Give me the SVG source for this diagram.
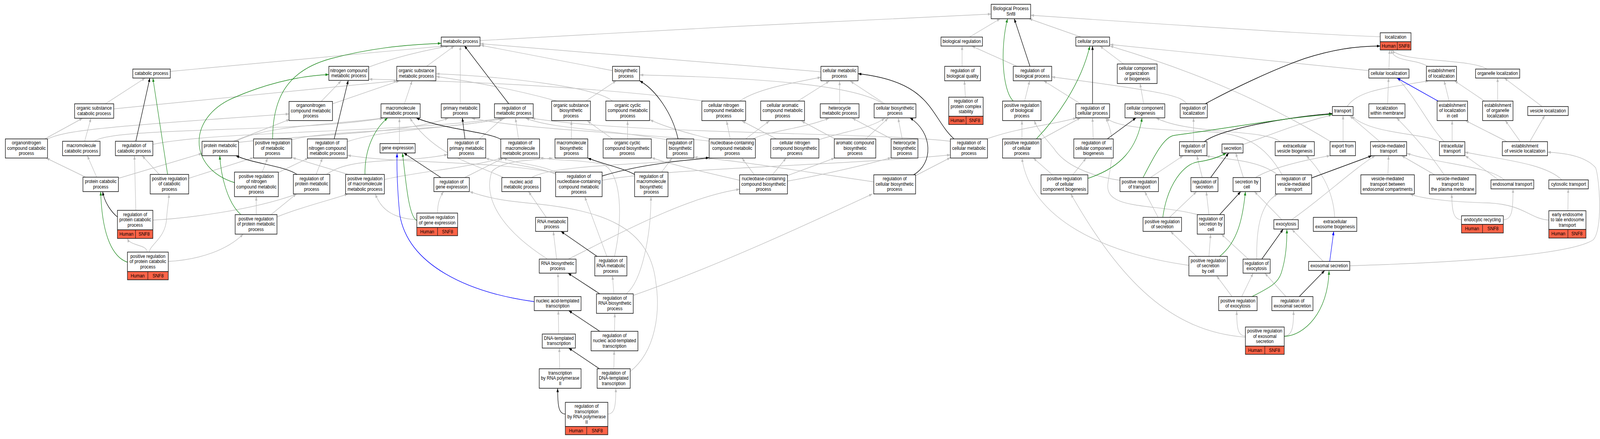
<svg xmlns="http://www.w3.org/2000/svg" width="4783" height="1125" viewBox="0 0 4783 1125" preserveAspectRatio="none" style="width:100vw;height:100vh;display:block">
<style>
.n rect{fill:#fff;stroke:#1a1a1a;stroke-width:1.6}
.n rect.bar{fill:#FF6347}
.n line{stroke:#1a1a1a;stroke-width:1.4}
text{font-family:"Liberation Sans",Arial,Helvetica,sans-serif;font-size:13px;text-anchor:middle;fill:#000}
.e path{fill:none;stroke-width:1.4}
.e .g{stroke:#BEBEBE;marker-end:url(#ag)}
.e .k{stroke:#000;marker-end:url(#ak)}
.e .v{stroke:#228B22;marker-end:url(#av)}
.e .b{stroke:#0000FF;marker-end:url(#ab)}
</style>
<defs>
<marker id="ag" viewBox="0 0 10 7" refX="10" refY="3.5" markerWidth="10" markerHeight="7" markerUnits="userSpaceOnUse" orient="auto"><path d="M0,0L10,3.5L0,7z" fill="#BEBEBE"/></marker>
<marker id="ak" viewBox="0 0 10 7" refX="10" refY="3.5" markerWidth="10" markerHeight="7" markerUnits="userSpaceOnUse" orient="auto"><path d="M0,0L10,3.5L0,7z" fill="#000"/></marker>
<marker id="av" viewBox="0 0 10 7" refX="10" refY="3.5" markerWidth="10" markerHeight="7" markerUnits="userSpaceOnUse" orient="auto"><path d="M0,0L10,3.5L0,7z" fill="#228B22"/></marker>
<marker id="ab" viewBox="0 0 10 7" refX="10" refY="3.5" markerWidth="10" markerHeight="7" markerUnits="userSpaceOnUse" orient="auto"><path d="M0,0L10,3.5L0,7z" fill="#0000FF"/></marker>
</defs>
<rect x="0" y="0" width="4783" height="1125" fill="#fff"/>
<g id="edges" class="e">
<path class="g" d="M1435,104 C1900,82 2500,52 2963,36"/>
<path class="g" d="M2898,95 L2990,48"/>
<path class="g" d="M3232,95 L3076,48"/>
<path class="g" d="M4126,94 Q3950,90 3081,39"/>
<path class="g" d="M509,183 L1326,118"/>
<path class="g" d="M1102,172 Q1200,140 1342,118"/>
<path class="g" d="M1275,170 L1358,118"/>
<path class="g" d="M1376,266 L1376,118"/>
<path class="g" d="M1831,181 L1437,116"/>
<path class="g" d="M2454,184 L1436,112"/>
<path class="g" d="M315,266 L434,200"/>
<path class="g" d="M134,356 L247,303"/>
<path class="g" d="M253,362 L272,303"/>
<path class="g" d="M340,279 L1187,207"/>
<path class="g" d="M960,260 L1020,207"/>
<path class="g" d="M994,266 L1194,207"/>
<path class="g" d="M2105,259 Q1700,214 1103,203"/>
<path class="g" d="M1209,266 L1232,207"/>
<path class="g" d="M1665,259 Q1500,220 1304,196"/>
<path class="g" d="M1751,259 L1842,207"/>
<path class="g" d="M1831,259 C1780,222 1500,196 1304,189"/>
<path class="g" d="M2125,356 Q2000,330 1943,307"/>
<path class="g" d="M140,357 C190,335 300,325 864,292"/>
<path class="g" d="M283,362 C330,325 900,340 1145,303"/>
<path class="g" d="M457,370 C650,335 1200,340 1500,303"/>
<path class="g" d="M698,362 L866,306"/>
<path class="g" d="M705,362 C800,320 1000,320 1148,302"/>
<path class="g" d="M872,358 C1000,330 1300,340 1505,303"/>
<path class="g" d="M1038,363 C1150,330 1350,330 1510,303"/>
<path class="g" d="M1194,368 L1194,303"/>
<path class="g" d="M1433,356 L1503,303"/>
<path class="g" d="M1550,356 L1541,303"/>
<path class="g" d="M1708,356 L1708,310"/>
<path class="g" d="M1876,356 L1876,310"/>
<path class="g" d="M1831,356 L1756,310"/>
<path class="g" d="M1995,358 C1800,330 1650,330 1572,303"/>
<path class="g" d="M2183,356 L2172,310"/>
<path class="g" d="M2229,356 L2300,310"/>
<path class="g" d="M2250,356 C2300,335 2400,330 2478,303"/>
<path class="g" d="M2125,362 C1900,340 1600,335 1410,303"/>
<path class="g" d="M712,365 C900,345 1200,345 1340,303"/>
<path class="g" d="M2321,356 L2218,310"/>
<path class="g" d="M2448,358 C2530,335 2600,330 2645,303"/>
<path class="g" d="M2496,356 L2396,310"/>
<path class="g" d="M2588,356 L2655,303"/>
<path class="g" d="M2665,356 L2548,303"/>
<path class="g" d="M2697,356 L2685,303"/>
<path class="g" d="M2645,266 L2542,208"/>
<path class="g" d="M2640,266 C2560,220 2300,200 1913,192"/>
<path class="g" d="M2510,266 L2510,208"/>
<path class="g" d="M2385,259 L2479,208"/>
<path class="g" d="M2211,259 C2260,230 2350,215 2454,198"/>
<path class="g" d="M2841,362 C2600,338 1900,345 1590,303"/>
<path class="g" d="M2950,356 C3050,325 3150,320 3218,302"/>
<path class="g" d="M2876,170 L2876,118"/>
<path class="g" d="M2886,249 L2883,207"/>
<path class="g" d="M3040,170 L2905,118"/>
<path class="g" d="M3063,259 L3078,207"/>
<path class="g" d="M3230,266 L3120,207"/>
<path class="g" d="M3359,164 L3288,118"/>
<path class="g" d="M3419,266 L3408,214"/>
<path class="g" d="M3548,266 C3530,245 3480,235 3144,197"/>
<path class="g" d="M3055,356 L3055,309"/>
<path class="g" d="M3110,358 L3230,302"/>
<path class="g" d="M3268,356 L3266,302"/>
<path class="g" d="M3146,448 L3089,405"/>
<path class="g" d="M3207,448 L3247,405"/>
<path class="g" d="M4027,273 C4060,230 4150,225 4271,207"/>
<path class="g" d="M3568,363 L3568,302"/>
<path class="g" d="M3717,370 C3800,345 3900,310 3982,295"/>
<path class="g" d="M3439,455 L3537,399"/>
<path class="g" d="M3348,462 C3250,450 3180,420 3150,380 C3120,350 3100,330 3092,309"/>
<path class="g" d="M3594,455 L3578,399"/>
<path class="g" d="M3717,455 L3694,392"/>
<path class="g" d="M3820,448 C3770,415 3700,410 3606,400"/>
<path class="g" d="M3833,448 C3780,370 3720,340 3600,337 C3450,333 3330,325 3308,302"/>
<path class="g" d="M3827,363 C3780,330 3550,345 3456,302"/>
<path class="g" d="M4015,363 L4015,296"/>
<path class="g" d="M4125,363 L4035,297"/>
<path class="g" d="M4305,363 C4250,340 4100,345 4040,297"/>
<path class="g" d="M4341,363 L4341,309"/>
<path class="g" d="M4317,363 C4270,320 4240,260 4178,200"/>
<path class="g" d="M4545,363 L4500,309"/>
<path class="g" d="M4573,363 L4618,296"/>
<path class="g" d="M4505,363 L4381,309"/>
<path class="g" d="M4610,273 L4497,200"/>
<path class="g" d="M4477,259 L4477,200"/>
<path class="g" d="M4438,259 L4348,207"/>
<path class="g" d="M4332,259 L4317,207"/>
<path class="g" d="M4148,266 L4151,200"/>
<path class="g" d="M4152,177 L4154,128"/>
<path class="g" d="M4268,170 C4230,150 4168,160 4158,128"/>
<path class="g" d="M4445,177 C4400,150 4185,160 4162,128"/>
<path class="g" d="M4092,181 L3318,114"/>
<path class="g" d="M4149,448 L4151,399"/>
<path class="g" d="M4497,461 C4450,425 4300,420 4206,393"/>
<path class="g" d="M4480,461 L4380,399"/>
<path class="g" d="M4289,448 L4190,399"/>
<path class="g" d="M4317,448 C4280,400 4230,350 4175,302"/>
<path class="g" d="M4669,461 C4620,420 4500,410 4379,390"/>
<path class="g" d="M4369,563 C4345,563 4340,540 4340,497"/>
<path class="g" d="M4494,563 C4520,563 4523,540 4523,484"/>
<path class="g" d="M4687,540 L4688,484"/>
<path class="g" d="M4630,564 C4570,560 4560,525 4450,520 C4350,518 4250,510 4215,497"/>
<path class="g" d="M3990,557 C3985,480 3940,430 3905,399"/>
<path class="g" d="M4035,681 C4400,672 4700,650 4762,615 C4792,590 4782,460 4770,430 C4740,400 4680,392 4626,390"/>
<path class="g" d="M3956,670 L3862,588"/>
<path class="g" d="M3832,563 L3750,491"/>
<path class="g" d="M3861,563 C3950,510 4050,430 4111,399"/>
<path class="g" d="M3614,550 L3606,491"/>
<path class="g" d="M3585,551 C3450,520 3300,540 3312,470 C3320,420 3340,360 3305,302"/>
<path class="g" d="M3462,557 L3422,491"/>
<path class="g" d="M3496,557 L3577,491"/>
<path class="g" d="M3577,657 L3499,593"/>
<path class="g" d="M3614,657 L3619,600"/>
<path class="g" d="M3554,680 C3300,650 3080,560 3055,405"/>
<path class="g" d="M3732,664 L3651,600"/>
<path class="g" d="M3757,664 C3755,580 3770,520 3820,497"/>
<path class="g" d="M3683,760 L3637,707"/>
<path class="g" d="M3712,760 L3746,700"/>
<path class="g" d="M3844,760 L3781,700"/>
<path class="g" d="M3723,861 C3700,861 3697,840 3697,797"/>
<path class="g" d="M3839,861 C3862,861 3867,840 3867,797"/>
<path class="g" d="M3723,864 C3500,850 3350,720 3201,497"/>
<path class="g" d="M1389,455 L1505,405"/>
<path class="g" d="M1308,546 C1308,520 1315,505 1326,491"/>
<path class="g" d="M1246,563 C1180,560 1140,540 1122,497"/>
<path class="g" d="M1590,455 C1650,420 2000,420 2128,405"/>
<path class="g" d="M1505,455 C1420,420 1300,400 1225,302"/>
<path class="g" d="M1633,557 L1580,491"/>
<path class="g" d="M1664,664 L1654,593"/>
<path class="g" d="M1635,663 C1520,600 1440,520 1470,440 C1500,410 1600,410 1652,405"/>
<path class="g" d="M1699,664 C1850,600 2050,505 2211,485"/>
<path class="g" d="M1814,657 L1748,504"/>
<path class="g" d="M1837,657 C1862,560 1860,440 1800,420 C1720,408 1660,412 1614,404"/>
<path class="g" d="M1835,753 L1831,707"/>
<path class="g" d="M1872,753 C1920,720 1946,600 1946,504"/>
<path class="g" d="M1893,757 C2150,680 2450,560 2608,497"/>
<path class="g" d="M1837,849 L1838,803"/>
<path class="g" d="M1669,760 L1668,700"/>
<path class="g" d="M1670,856 L1669,796"/>
<path class="g" d="M1835,945 L1836,899"/>
<path class="g" d="M1884,952 C1960,900 1975,800 1960,720 C1940,580 1800,540 1600,522 C1500,515 1450,505 1404,491"/>
<path class="g" d="M1673,945 L1672,892"/>
<path class="g" d="M1817,1061 C1838,1061 1841,1040 1841,995"/>
<path class="g" d="M1978,441 L2009,405"/>
<path class="g" d="M256,454 L138,405"/>
<path class="g" d="M289,454 L261,399"/>
<path class="g" d="M354,457 L604,393"/>
<path class="g" d="M476,447 L425,399"/>
<path class="g" d="M564,457 L758,404"/>
<path class="g" d="M406,539 L402,399"/>
<path class="g" d="M457,564 C550,560 750,540 888,497"/>
<path class="g" d="M440,646 C438,625 390,632 381,611"/>
<path class="g" d="M446,646 C450,625 495,610 498,560 C500,530 505,515 505,497"/>
<path class="g" d="M503,670 C600,665 680,640 727,600"/>
<path class="g" d="M810,550 L886,497"/>
<path class="g" d="M828,556 C900,530 1000,510 1040,497"/>
<path class="g" d="M766,550 L766,504"/>
<path class="g" d="M784,441 L800,405"/>
<path class="g" d="M830,443 L922,405"/>
<path class="g" d="M945,447 L964,405"/>
<path class="g" d="M976,447 C1050,400 1200,420 1338,396"/>
<path class="g" d="M1041,447 L874,404"/>
<path class="g" d="M1149,460 C1250,440 1400,430 1500,405"/>
<path class="g" d="M1661,443 C1450,410 1200,420 1039,398"/>
<path class="g" d="M1661,446 C1600,425 1500,420 1452,405"/>
<path class="g" d="M1663,442 C1610,420 1540,420 1505,405"/>
<path class="g" d="M1800,462 C2000,430 2500,425 2841,397"/>
<path class="g" d="M2612,466 C2400,440 2200,410 2075,403"/>
<path class="g" d="M2255,448 L2218,405"/>
<path class="g" d="M2309,448 L2350,405"/>
<path class="g" d="M2354,450 L2495,405"/>
<path class="g" d="M2354,464 C2450,450 2600,420 2664,404"/>
<path class="g" d="M2211,462 C2100,440 2000,420 1948,404"/>
<path class="g" d="M2737,450 L2841,404"/>
<path class="g" d="M3978,363 C3800,270 3600,190 3318,118"/>
<path class="g" d="M3753,455 C3800,430 3900,410 3976,399"/>
<path class="k" d="M3079,170 L3032,48"/>
<path class="k" d="M3266,266 L3266,118"/>
<path class="k" d="M3310,356 L3396,302"/>
<path class="k" d="M3603,266 C3680,230 3800,180 3900,150 C3980,128 4050,118 4126,118"/>
<path class="k" d="M3600,363 C3650,330 3850,300 3983,291"/>
<path class="k" d="M3619,455 L3673,392"/>
<path class="k" d="M3646,550 L3709,491"/>
<path class="k" d="M3921,456 L4101,399"/>
<path class="k" d="M3772,664 L3836,587"/>
<path class="k" d="M3884,760 L3960,693"/>
<path class="k" d="M2852,356 C2780,300 2790,210 2565,189"/>
<path class="k" d="M2731,448 C2790,420 2790,340 2720,302"/>
<path class="k" d="M999,356 L1041,206"/>
<path class="k" d="M406,362 L448,200"/>
<path class="k" d="M888,447 C850,425 760,420 705,399"/>
<path class="k" d="M351,556 C335,545 312,520 307,491"/>
<path class="k" d="M1521,266 L1388,117"/>
<path class="k" d="M1390,356 L1382,302"/>
<path class="k" d="M1497,357 C1460,338 1320,330 1244,302"/>
<path class="k" d="M1318,455 L1207,392"/>
<path class="k" d="M2027,356 C2010,290 1960,230 1912,207"/>
<path class="k" d="M1800,451 C1900,425 2000,415 2120,404"/>
<path class="k" d="M1897,447 C1860,430 1800,420 1757,405"/>
<path class="k" d="M1785,657 L1677,593"/>
<path class="k" d="M1793,753 L1698,700"/>
<path class="k" d="M1793,849 L1700,796"/>
<path class="k" d="M1792,945 L1700,892"/>
<path class="k" d="M1690,1061 C1670,1061 1667,1040 1667,995"/>
<path class="v" d="M815,356 C815,250 860,180 990,150 C1100,125 1200,115 1319,111"/>
<path class="v" d="M701,468 C560,430 560,300 700,250 C780,220 880,195 983,191"/>
<path class="v" d="M501,447 L457,200"/>
<path class="v" d="M720,550 C680,520 660,450 657,399"/>
<path class="v" d="M381,672 C340,660 305,610 301,491"/>
<path class="v" d="M1091,447 C1090,380 1120,330 1159,302"/>
<path class="v" d="M1246,565 C1220,555 1212,450 1203,392"/>
<path class="v" d="M3029,259 C2995,230 2990,120 3012,48"/>
<path class="v" d="M3098,356 C3150,310 3230,220 3258,118"/>
<path class="v" d="M3252,457 C3350,430 3400,380 3414,302"/>
<path class="v" d="M3417,455 C3450,400 3480,350 3510,347 C3700,325 3850,300 3982,293"/>
<path class="v" d="M3476,557 C3490,470 3540,420 3580,415 C3620,410 3650,400 3666,392"/>
<path class="v" d="M3646,657 C3700,620 3715,560 3723,491"/>
<path class="v" d="M3743,760 C3800,735 3820,725 3830,700 C3845,660 3847,620 3847,588"/>
<path class="v" d="M3839,862 C3900,860 3970,800 3973,694"/>
<path class="b" d="M1597,773 C1400,750 1220,680 1195,550 C1187,480 1186,430 1187,393"/>
<path class="b" d="M4299,259 L4176,200"/>
<path class="b" d="M3975,670 L3987,593"/>
</g>
<g id="BP" class="n"><rect x="2963" y="11" width="118" height="37"/><text><tspan x="3022" y="26">Biological Process</tspan><tspan x="3022" y="40">Snf8</tspan></text></g>
<g id="MP" class="n"><rect x="1319" y="95" width="116" height="23"/><text x="1377" y="110">metabolic process</text></g>
<g id="BR" class="n"><rect x="2813" y="95" width="124" height="23"/><text x="2875" y="110">biological regulation</text></g>
<g id="CP" class="n"><rect x="3216" y="95" width="101" height="23"/><text x="3266.5" y="110">cellular process</text></g>
<g id="LOC" class="n"><rect x="4126" y="84" width="92" height="23"/><text x="4172" y="99">localization</text><rect class="bar" x="4126" y="107" width="92" height="21"/><line x1="4177" y1="107" x2="4177" y2="128"/><text x="4151.5" y="122">Human</text><text x="4197.5" y="122">SNF8</text></g>
<g id="CAT" class="n"><rect x="397" y="177" width="112" height="23"/><text x="453" y="192">catabolic process</text></g>
<g id="NCM" class="n"><rect x="983" y="170" width="119" height="36"/><text><tspan x="1042.5" y="184.75">nitrogen compound</tspan><tspan x="1042.5" y="198.25">metabolic process</tspan></text></g>
<g id="OSM" class="n"><rect x="1186" y="170" width="117" height="37"/><text><tspan x="1244.5" y="185.25">organic substance</tspan><tspan x="1244.5" y="198.75">metabolic process</tspan></text></g>
<g id="BIO" class="n"><rect x="1831" y="170" width="81" height="37"/><text><tspan x="1871.5" y="185.25">biosynthetic</tspan><tspan x="1871.5" y="198.75">process</tspan></text></g>
<g id="CMP" class="n"><rect x="2454" y="170" width="111" height="37"/><text><tspan x="2509.5" y="185.25">cellular metabolic</tspan><tspan x="2509.5" y="198.75">process</tspan></text></g>
<g id="RBQ" class="n"><rect x="2824" y="170" width="107" height="37"/><text><tspan x="2877.5" y="185.25">regulation of</tspan><tspan x="2877.5" y="198.75">biological quality</tspan></text></g>
<g id="RBP" class="n"><rect x="3029" y="170" width="115" height="37"/><text><tspan x="3086.5" y="185.25">regulation of</tspan><tspan x="3086.5" y="198.75">biological process</tspan></text></g>
<g id="CCOB" class="n"><rect x="3340" y="164" width="119" height="50"/><text><tspan x="3399.5" y="179">cellular component</tspan><tspan x="3399.5" y="192.5">organization</tspan><tspan x="3399.5" y="206">or biogenesis</tspan></text></g>
<g id="CLOC" class="n"><rect x="4092" y="177" width="120" height="23"/><text x="4152" y="192">cellular localization</text></g>
<g id="EOL" class="n"><rect x="4264" y="170" width="90" height="37"/><text><tspan x="4309" y="185.25">establishment</tspan><tspan x="4309" y="198.75">of localization</tspan></text></g>
<g id="OL" class="n"><rect x="4411" y="177" width="132" height="23"/><text x="4477" y="192">organelle localization</text></g>
<g id="OSC" class="n"><rect x="223" y="266" width="117" height="37"/><text><tspan x="281.5" y="281.25">organic substance</tspan><tspan x="281.5" y="294.75">catabolic process</tspan></text></g>
<g id="ONM" class="n"><rect x="864" y="260" width="130" height="49"/><text><tspan x="929" y="274.5">organonitrogen</tspan><tspan x="929" y="288">compound metabolic</tspan><tspan x="929" y="301.5">process</tspan></text></g>
<g id="MMP" class="n"><rect x="1139" y="266" width="117" height="36"/><text><tspan x="1197.5" y="280.75">macromolecule</tspan><tspan x="1197.5" y="294.25">metabolic process</tspan></text></g>
<g id="PMP" class="n"><rect x="1319" y="266" width="115" height="36"/><text><tspan x="1376.5" y="280.75">primary metabolic</tspan><tspan x="1376.5" y="294.25">process</tspan></text></g>
<g id="RMP" class="n"><rect x="1478" y="266" width="116" height="36"/><text><tspan x="1536" y="280.75">regulation of</tspan><tspan x="1536" y="294.25">metabolic process</tspan></text></g>
<g id="OSB" class="n"><rect x="1649" y="259" width="116" height="50"/><text><tspan x="1707" y="274">organic substance</tspan><tspan x="1707" y="287.5">biosynthetic</tspan><tspan x="1707" y="301">process</tspan></text></g>
<g id="OCCM" class="n"><rect x="1811" y="259" width="131" height="50"/><text><tspan x="1876.5" y="274">organic cyclic</tspan><tspan x="1876.5" y="287.5">compound metabolic</tspan><tspan x="1876.5" y="301">process</tspan></text></g>
<g id="CNCM" class="n"><rect x="2098" y="259" width="131" height="50"/><text><tspan x="2163.5" y="274">cellular nitrogen</tspan><tspan x="2163.5" y="287.5">compound metabolic</tspan><tspan x="2163.5" y="301">process</tspan></text></g>
<g id="CACM" class="n"><rect x="2274" y="259" width="131" height="50"/><text><tspan x="2339.5" y="274">cellular aromatic</tspan><tspan x="2339.5" y="287.5">compound metabolic</tspan><tspan x="2339.5" y="301">process</tspan></text></g>
<g id="HMP" class="n"><rect x="2452" y="266" width="116" height="36"/><text><tspan x="2510" y="280.75">heterocycle</tspan><tspan x="2510" y="294.25">metabolic process</tspan></text></g>
<g id="CBP" class="n"><rect x="2613" y="266" width="125" height="36"/><text><tspan x="2675.5" y="280.75">cellular biosynthetic</tspan><tspan x="2675.5" y="294.25">process</tspan></text></g>
<g id="RPCS" class="n"><rect x="2836" y="249" width="103" height="49"/><text><tspan x="2887.5" y="263.5">regulation of</tspan><tspan x="2887.5" y="277">protein complex</tspan><tspan x="2887.5" y="290.5">stability</tspan></text><rect class="bar" x="2836" y="298" width="103" height="21"/><line x1="2888" y1="298" x2="2888" y2="319"/><text x="2862" y="313">Human</text><text x="2913.5" y="313">SNF8</text></g>
<g id="PRBP" class="n"><rect x="2997" y="259" width="115" height="50"/><text><tspan x="3054.5" y="274">positive regulation</tspan><tspan x="3054.5" y="287.5">of biological</tspan><tspan x="3054.5" y="301">process</tspan></text></g>
<g id="RCP" class="n"><rect x="3216" y="266" width="101" height="36"/><text><tspan x="3266.5" y="280.75">regulation of</tspan><tspan x="3266.5" y="294.25">cellular process</tspan></text></g>
<g id="CCB" class="n"><rect x="3363" y="266" width="119" height="36"/><text><tspan x="3422.5" y="280.75">cellular component</tspan><tspan x="3422.5" y="294.25">biogenesis</tspan></text></g>
<g id="RLOC" class="n"><rect x="3528" y="266" width="81" height="36"/><text><tspan x="3568.5" y="280.75">regulation of</tspan><tspan x="3568.5" y="294.25">localization</tspan></text></g>
<g id="TR" class="n"><rect x="3983" y="273" width="62" height="23"/><text x="4014" y="288">transport</text></g>
<g id="LWM" class="n"><rect x="4092" y="266" width="108" height="36"/><text><tspan x="4146" y="280.75">localization</tspan><tspan x="4146" y="294.25">within membrane</tspan></text></g>
<g id="EOLC" class="n"><rect x="4296" y="259" width="91" height="50"/><text><tspan x="4341.5" y="274">establishment</tspan><tspan x="4341.5" y="287.5">of localization</tspan><tspan x="4341.5" y="301">in cell</tspan></text></g>
<g id="EOOL" class="n"><rect x="4432" y="259" width="91" height="50"/><text><tspan x="4477.5" y="274">establishment</tspan><tspan x="4477.5" y="287.5">of organelle</tspan><tspan x="4477.5" y="301">localization</tspan></text></g>
<g id="VL" class="n"><rect x="4567" y="273" width="121" height="23"/><text x="4627.5" y="288">vesicle localization</text></g>
<g id="ONCC" class="n"><rect x="16" y="356" width="126" height="49"/><text><tspan x="79" y="370.5">organonitrogen</tspan><tspan x="79" y="384">compound catabolic</tspan><tspan x="79" y="397.5">process</tspan></text></g>
<g id="MCP" class="n"><rect x="187" y="362" width="112" height="37"/><text><tspan x="243" y="377.25">macromolecule</tspan><tspan x="243" y="390.75">catabolic process</tspan></text></g>
<g id="RCAT" class="n"><rect x="345" y="362" width="112" height="37"/><text><tspan x="401" y="377.25">regulation of</tspan><tspan x="401" y="390.75">catabolic process</tspan></text></g>
<g id="PRMP" class="n"><rect x="604" y="362" width="109" height="37"/><text><tspan x="658.5" y="377.25">protein metabolic</tspan><tspan x="658.5" y="390.75">process</tspan></text></g>
<g id="PRMETP" class="n"><rect x="758" y="356" width="114" height="49"/><text><tspan x="815" y="370.5">positive regulation</tspan><tspan x="815" y="384">of metabolic</tspan><tspan x="815" y="397.5">process</tspan></text></g>
<g id="RNCM" class="n"><rect x="919" y="356" width="119" height="49"/><text><tspan x="978.5" y="370.5">regulation of</tspan><tspan x="978.5" y="384">nitrogen compound</tspan><tspan x="978.5" y="397.5">metabolic process</tspan></text></g>
<g id="GE" class="n"><rect x="1136" y="368" width="105" height="24"/><text x="1188.5" y="383.5">gene expression</text></g>
<g id="RPRIM" class="n"><rect x="1338" y="356" width="114" height="49"/><text><tspan x="1395" y="370.5">regulation of</tspan><tspan x="1395" y="384">primary metabolic</tspan><tspan x="1395" y="397.5">process</tspan></text></g>
<g id="RMMP" class="n"><rect x="1497" y="356" width="116" height="49"/><text><tspan x="1555" y="370.5">regulation of</tspan><tspan x="1555" y="384">macromolecule</tspan><tspan x="1555" y="397.5">metabolic process</tspan></text></g>
<g id="MBP" class="n"><rect x="1659" y="356" width="98" height="49"/><text><tspan x="1708" y="370.5">macromolecule</tspan><tspan x="1708" y="384">biosynthetic</tspan><tspan x="1708" y="397.5">process</tspan></text></g>
<g id="OCCB" class="n"><rect x="1803" y="356" width="144" height="49"/><text><tspan x="1875" y="370.5">organic cyclic</tspan><tspan x="1875" y="384">compound biosynthetic</tspan><tspan x="1875" y="397.5">process</tspan></text></g>
<g id="RBIO" class="n"><rect x="1993" y="356" width="81" height="49"/><text><tspan x="2033.5" y="370.5">regulation of</tspan><tspan x="2033.5" y="384">biosynthetic</tspan><tspan x="2033.5" y="397.5">process</tspan></text></g>
<g id="NCCM" class="n"><rect x="2120" y="356" width="138" height="49"/><text><tspan x="2189" y="370.5">nucleobase-containing</tspan><tspan x="2189" y="384">compound metabolic</tspan><tspan x="2189" y="397.5">process</tspan></text></g>
<g id="CNCB" class="n"><rect x="2304" y="356" width="144" height="49"/><text><tspan x="2376" y="370.5">cellular nitrogen</tspan><tspan x="2376" y="384">compound biosynthetic</tspan><tspan x="2376" y="397.5">process</tspan></text></g>
<g id="ACB" class="n"><rect x="2494" y="356" width="124" height="49"/><text><tspan x="2556" y="370.5">aromatic compound</tspan><tspan x="2556" y="384">biosynthetic</tspan><tspan x="2556" y="397.5">process</tspan></text></g>
<g id="HBP" class="n"><rect x="2664" y="356" width="80" height="49"/><text><tspan x="2704" y="370.5">heterocycle</tspan><tspan x="2704" y="384">biosynthetic</tspan><tspan x="2704" y="397.5">process</tspan></text></g>
<g id="RCMP" class="n"><rect x="2841" y="356" width="111" height="49"/><text><tspan x="2896.5" y="370.5">regulation of</tspan><tspan x="2896.5" y="384">cellular metabolic</tspan><tspan x="2896.5" y="397.5">process</tspan></text></g>
<g id="PRCP" class="n"><rect x="2997" y="356" width="115" height="49"/><text><tspan x="3054.5" y="370.5">positive regulation</tspan><tspan x="3054.5" y="384">of cellular</tspan><tspan x="3054.5" y="397.5">process</tspan></text></g>
<g id="RCCB" class="n"><rect x="3210" y="356" width="118" height="49"/><text><tspan x="3269" y="370.5">regulation of</tspan><tspan x="3269" y="384">cellular component</tspan><tspan x="3269" y="397.5">biogenesis</tspan></text></g>
<g id="RTR" class="n"><rect x="3526" y="363" width="82" height="36"/><text><tspan x="3567" y="377.75">regulation of</tspan><tspan x="3567" y="391.25">transport</tspan></text></g>
<g id="SEC" class="n"><rect x="3653" y="369" width="63" height="23"/><text x="3684.5" y="384">secretion</text></g>
<g id="EVB" class="n"><rect x="3812" y="363" width="117" height="36"/><text><tspan x="3870.5" y="377.75">extracellular</tspan><tspan x="3870.5" y="391.25">vesicle biogenesis</tspan></text></g>
<g id="EFC" class="n"><rect x="3976" y="363" width="76" height="36"/><text><tspan x="4014" y="377.75">export from</tspan><tspan x="4014" y="391.25">cell</tspan></text></g>
<g id="VMT" class="n"><rect x="4097" y="363" width="108" height="36"/><text><tspan x="4151" y="377.75">vesicle-mediated</tspan><tspan x="4151" y="391.25">transport</tspan></text></g>
<g id="IT" class="n"><rect x="4303" y="363" width="76" height="36"/><text><tspan x="4341" y="377.75">intracellular</tspan><tspan x="4341" y="391.25">transport</tspan></text></g>
<g id="EVL" class="n"><rect x="4491" y="363" width="135" height="36"/><text><tspan x="4558.5" y="377.75">establishment</tspan><tspan x="4558.5" y="391.25">of vesicle localization</tspan></text></g>
<g id="PCP" class="n"><rect x="248" y="454" width="106" height="37"/><text><tspan x="301" y="469.25">protein catabolic</tspan><tspan x="301" y="482.75">process</tspan></text></g>
<g id="PRCAT" class="n"><rect x="449" y="447" width="115" height="50"/><text><tspan x="506.5" y="462">positive regulation</tspan><tspan x="506.5" y="475.5">of catabolic</tspan><tspan x="506.5" y="489">process</tspan></text></g>
<g id="PRNCM" class="n"><rect x="701" y="441" width="131" height="63"/><text><tspan x="766.5" y="455.75">positive regulation</tspan><tspan x="766.5" y="469.25">of nitrogen</tspan><tspan x="766.5" y="482.75">compound metabolic</tspan><tspan x="766.5" y="496.25">process</tspan></text></g>
<g id="RPMP" class="n"><rect x="877" y="447" width="109" height="50"/><text><tspan x="931.5" y="462">regulation of</tspan><tspan x="931.5" y="475.5">protein metabolic</tspan><tspan x="931.5" y="489">process</tspan></text></g>
<g id="PRMMP" class="n"><rect x="1033" y="447" width="116" height="50"/><text><tspan x="1091" y="462">positive regulation</tspan><tspan x="1091" y="475.5">of macromolecule</tspan><tspan x="1091" y="489">metabolic process</tspan></text></g>
<g id="RGE" class="n"><rect x="1297" y="455" width="106" height="36"/><text><tspan x="1350" y="469.75">regulation of</tspan><tspan x="1350" y="483.25">gene expression</tspan></text></g>
<g id="NAM" class="n"><rect x="1500" y="455" width="116" height="36"/><text><tspan x="1558" y="469.75">nucleic acid</tspan><tspan x="1558" y="483.25">metabolic process</tspan></text></g>
<g id="RNCCM" class="n"><rect x="1661" y="441" width="139" height="63"/><text><tspan x="1730.5" y="455.75">regulation of</tspan><tspan x="1730.5" y="469.25">nucleobase-containing</tspan><tspan x="1730.5" y="482.75">compound metabolic</tspan><tspan x="1730.5" y="496.25">process</tspan></text></g>
<g id="RMBP" class="n"><rect x="1897" y="441" width="100" height="63"/><text><tspan x="1947" y="455.75">regulation of</tspan><tspan x="1947" y="469.25">macromolecule</tspan><tspan x="1947" y="482.75">biosynthetic</tspan><tspan x="1947" y="496.25">process</tspan></text></g>
<g id="NCCB" class="n"><rect x="2211" y="448" width="143" height="49"/><text><tspan x="2282.5" y="462.5">nucleobase-containing</tspan><tspan x="2282.5" y="476">compound biosynthetic</tspan><tspan x="2282.5" y="489.5">process</tspan></text></g>
<g id="RCBP" class="n"><rect x="2612" y="448" width="125" height="49"/><text><tspan x="2674.5" y="462.5">regulation of</tspan><tspan x="2674.5" y="476">cellular biosynthetic</tspan><tspan x="2674.5" y="489.5">process</tspan></text></g>
<g id="PRCCB" class="n"><rect x="3112" y="448" width="140" height="49"/><text><tspan x="3182" y="462.5">positive regulation</tspan><tspan x="3182" y="476">of cellular</tspan><tspan x="3182" y="489.5">component biogenesis</tspan></text></g>
<g id="PRTR" class="n"><rect x="3348" y="455" width="115" height="36"/><text><tspan x="3405.5" y="469.75">positive regulation</tspan><tspan x="3405.5" y="483.25">of transport</tspan></text></g>
<g id="RSEC" class="n"><rect x="3560" y="455" width="81" height="36"/><text><tspan x="3600.5" y="469.75">regulation of</tspan><tspan x="3600.5" y="483.25">secretion</tspan></text></g>
<g id="SBC" class="n"><rect x="3686" y="455" width="82" height="36"/><text><tspan x="3727" y="469.75">secretion by</tspan><tspan x="3727" y="483.25">cell</tspan></text></g>
<g id="RVMT" class="n"><rect x="3813" y="448" width="108" height="49"/><text><tspan x="3867" y="462.5">regulation of</tspan><tspan x="3867" y="476">vesicle-mediated</tspan><tspan x="3867" y="489.5">transport</tspan></text></g>
<g id="VMTE" class="n"><rect x="4068" y="448" width="160" height="49"/><text><tspan x="4148" y="462.5">vesicle-mediated</tspan><tspan x="4148" y="476">transport between</tspan><tspan x="4148" y="489.5">endosomal compartments</tspan></text></g>
<g id="VMTP" class="n"><rect x="4273" y="448" width="139" height="49"/><text><tspan x="4342.5" y="462.5">vesicle-mediated</tspan><tspan x="4342.5" y="476">transport to</tspan><tspan x="4342.5" y="489.5">the plasma membrane</tspan></text></g>
<g id="ET" class="n"><rect x="4457" y="461" width="128" height="23"/><text x="4521" y="476">endosomal transport</text></g>
<g id="CYT" class="n"><rect x="4630" y="461" width="118" height="23"/><text x="4689" y="476">cytosolic transport</text></g>
<g id="RPCAT" class="n"><rect x="351" y="539" width="106" height="50"/><text><tspan x="404" y="554">regulation of</tspan><tspan x="404" y="567.5">protein catabolic</tspan><tspan x="404" y="581">process</tspan></text><rect class="bar" x="351" y="589" width="106" height="22"/><line x1="405" y1="589" x2="405" y2="611"/><text x="378" y="604.5">Human</text><text x="431" y="604.5">SNF8</text></g>
<g id="PRPMP" class="n"><rect x="703" y="550" width="125" height="50"/><text><tspan x="765.5" y="565">positive regulation</tspan><tspan x="765.5" y="578.5">of protein metabolic</tspan><tspan x="765.5" y="592">process</tspan></text></g>
<g id="PRGE" class="n"><rect x="1246" y="546" width="122" height="37"/><text><tspan x="1307" y="561.25">positive regulation</tspan><tspan x="1307" y="574.75">of gene expression</tspan></text><rect class="bar" x="1246" y="583" width="122" height="21"/><line x1="1308" y1="583" x2="1308" y2="604"/><text x="1277" y="598">Human</text><text x="1338" y="598">SNF8</text></g>
<g id="RNAM" class="n"><rect x="1601" y="557" width="96" height="36"/><text><tspan x="1649" y="571.75">RNA metabolic</tspan><tspan x="1649" y="585.25">process</tspan></text></g>
<g id="PRSEC" class="n"><rect x="3417" y="557" width="115" height="36"/><text><tspan x="3474.5" y="571.75">positive regulation</tspan><tspan x="3474.5" y="585.25">of secretion</tspan></text></g>
<g id="RSBC" class="n"><rect x="3579" y="550" width="81" height="50"/><text><tspan x="3619.5" y="565">regulation of</tspan><tspan x="3619.5" y="578.5">secretion by</tspan><tspan x="3619.5" y="592">cell</tspan></text></g>
<g id="EXO" class="n"><rect x="3808" y="563" width="73" height="24"/><text x="3844.5" y="578.5">exocytosis</text></g>
<g id="EEB" class="n"><rect x="3926" y="557" width="130" height="36"/><text><tspan x="3991" y="571.75">extracellular</tspan><tspan x="3991" y="585.25">exosome biogenesis</tspan></text></g>
<g id="ER" class="n"><rect x="4369" y="553" width="125" height="22"/><text x="4431.5" y="567.5">endocytic recycling</text><rect class="bar" x="4369" y="575" width="125" height="22"/><line x1="4432" y1="575" x2="4432" y2="597"/><text x="4400.5" y="590.5">Human</text><text x="4463" y="590.5">SNF8</text></g>
<g id="EELE" class="n"><rect x="4630" y="540" width="111" height="48"/><text><tspan x="4685.5" y="554">early endosome</tspan><tspan x="4685.5" y="567.5">to late endosome</tspan><tspan x="4685.5" y="581">transport</tspan></text><rect class="bar" x="4630" y="588" width="111" height="22"/><line x1="4687" y1="588" x2="4687" y2="610"/><text x="4658.5" y="603.5">Human</text><text x="4714" y="603.5">SNF8</text></g>
<g id="PRPCAT" class="n"><rect x="381" y="646" width="122" height="50"/><text><tspan x="442" y="661">positive regulation</tspan><tspan x="442" y="674.5">of protein catabolic</tspan><tspan x="442" y="688">process</tspan></text><rect class="bar" x="381" y="696" width="122" height="21"/><line x1="442" y1="696" x2="442" y2="717"/><text x="411.5" y="711">Human</text><text x="472.5" y="711">SNF8</text></g>
<g id="RNAB" class="n"><rect x="1612" y="664" width="110" height="36"/><text><tspan x="1667" y="678.75">RNA biosynthetic</tspan><tspan x="1667" y="692.25">process</tspan></text></g>
<g id="RRNAM" class="n"><rect x="1778" y="657" width="96" height="50"/><text><tspan x="1826" y="672">regulation of</tspan><tspan x="1826" y="685.5">RNA metabolic</tspan><tspan x="1826" y="699">process</tspan></text></g>
<g id="PRSBC" class="n"><rect x="3554" y="657" width="115" height="50"/><text><tspan x="3611.5" y="672">positive regulation</tspan><tspan x="3611.5" y="685.5">of secretion</tspan><tspan x="3611.5" y="699">by cell</tspan></text></g>
<g id="REXO" class="n"><rect x="3716" y="664" width="81" height="36"/><text><tspan x="3756.5" y="678.75">regulation of</tspan><tspan x="3756.5" y="692.25">exocytosis</tspan></text></g>
<g id="EXS" class="n"><rect x="3912" y="670" width="123" height="23"/><text x="3973.5" y="685">exosomal secretion</text></g>
<g id="NATT" class="n"><rect x="1597" y="760" width="140" height="36"/><text><tspan x="1667" y="774.75">nucleic acid-templated</tspan><tspan x="1667" y="788.25">transcription</tspan></text></g>
<g id="RRNAB" class="n"><rect x="1783" y="753" width="110" height="50"/><text><tspan x="1838" y="768">regulation of</tspan><tspan x="1838" y="781.5">RNA biosynthetic</tspan><tspan x="1838" y="795">process</tspan></text></g>
<g id="PREXO" class="n"><rect x="3643" y="760" width="115" height="36"/><text><tspan x="3700.5" y="774.75">positive regulation</tspan><tspan x="3700.5" y="788.25">of exocytosis</tspan></text></g>
<g id="REXS" class="n"><rect x="3802" y="760" width="123" height="36"/><text><tspan x="3863.5" y="774.75">regulation of</tspan><tspan x="3863.5" y="788.25">exosomal secretion</tspan></text></g>
<g id="DNAT" class="n"><rect x="1621" y="856" width="99" height="36"/><text><tspan x="1670.5" y="870.75">DNA-templated</tspan><tspan x="1670.5" y="884.25">transcription</tspan></text></g>
<g id="RNATT" class="n"><rect x="1767" y="849" width="140" height="50"/><text><tspan x="1837" y="864">regulation of</tspan><tspan x="1837" y="877.5">nucleic acid-templated</tspan><tspan x="1837" y="891">transcription</tspan></text></g>
<g id="PREXS" class="n"><rect x="3723" y="838" width="116" height="49"/><text><tspan x="3781" y="852.5">positive regulation</tspan><tspan x="3781" y="866">of exosomal</tspan><tspan x="3781" y="879.5">secretion</tspan></text><rect class="bar" x="3723" y="887" width="116" height="21"/><line x1="3781" y1="887" x2="3781" y2="908"/><text x="3752" y="902">Human</text><text x="3810" y="902">SNF8</text></g>
<g id="TRNAP" class="n"><rect x="1612" y="945" width="125" height="50"/><text><tspan x="1674.5" y="960">transcription</tspan><tspan x="1674.5" y="973.5">by RNA polymerase</tspan><tspan x="1674.5" y="987">II</tspan></text></g>
<g id="RDNAT" class="n"><rect x="1785" y="945" width="99" height="50"/><text><tspan x="1834.5" y="960">regulation of</tspan><tspan x="1834.5" y="973.5">DNA-templated</tspan><tspan x="1834.5" y="987">transcription</tspan></text></g>
<g id="RTRNAP" class="n"><rect x="1690" y="1031" width="127" height="62"/><text><tspan x="1753.5" y="1045.25">regulation of</tspan><tspan x="1753.5" y="1058.75">transcription</tspan><tspan x="1753.5" y="1072.25">by RNA polymerase</tspan><tspan x="1753.5" y="1085.75">II</tspan></text><rect class="bar" x="1690" y="1093" width="127" height="21"/><line x1="1754" y1="1093" x2="1754" y2="1114"/><text x="1722" y="1108">Human</text><text x="1785.5" y="1108">SNF8</text></g>
</svg>
